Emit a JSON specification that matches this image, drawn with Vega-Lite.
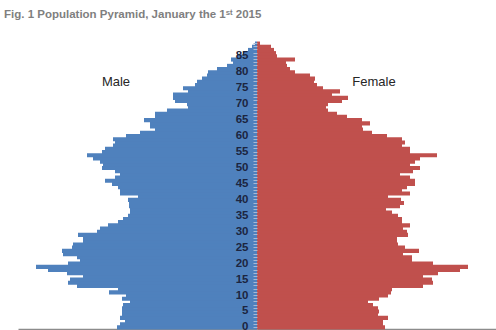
{
  "$schema": "https://vega.github.io/schema/vega-lite/v6.json",
  "width": 478,
  "height": 287,
  "autosize": "none",
  "padding": {"left": 18, "top": 42, "right": 0, "bottom": 1},
  "background": "white",
  "config": {"view": {"stroke": null}},
  "title": {
    "text": "Fig. 1 Population Pyramid, January the 1ˢᵗ 2015",
    "anchor": "start",
    "frame": "group",
    "font": "Liberation Sans, Arial, sans-serif",
    "fontSize": 11.5,
    "fontWeight": "bold",
    "color": "#7f7f7f",
    "baseline": "alphabetic",
    "offset": 29,
    "dx": -14,
    "dy": 21
  },
  "data": {
    "values": [
      {"age": 0, "male": 140, "female": 128},
      {"age": 1, "male": 137, "female": 126},
      {"age": 2, "male": 132, "female": 126},
      {"age": 3, "male": 137, "female": 131},
      {"age": 4, "male": 135, "female": 121},
      {"age": 5, "male": 135, "female": 122},
      {"age": 6, "male": 135, "female": 121},
      {"age": 7, "male": 134, "female": 116},
      {"age": 8, "male": 127, "female": 111},
      {"age": 9, "male": 135, "female": 122},
      {"age": 10, "male": 131, "female": 131},
      {"age": 11, "male": 148, "female": 134},
      {"age": 12, "male": 139, "female": 135},
      {"age": 13, "male": 180, "female": 166},
      {"age": 14, "male": 189, "female": 176},
      {"age": 15, "male": 187, "female": 175},
      {"age": 16, "male": 174, "female": 166},
      {"age": 17, "male": 190, "female": 181},
      {"age": 18, "male": 209, "female": 203},
      {"age": 19, "male": 221, "female": 211},
      {"age": 20, "male": 189, "female": 176},
      {"age": 21, "male": 177, "female": 155},
      {"age": 22, "male": 180, "female": 155},
      {"age": 23, "male": 194, "female": 146},
      {"age": 24, "male": 195, "female": 162},
      {"age": 25, "male": 185, "female": 148},
      {"age": 26, "male": 184, "female": 141},
      {"age": 27, "male": 174, "female": 140},
      {"age": 28, "male": 174, "female": 140},
      {"age": 29, "male": 179, "female": 151},
      {"age": 30, "male": 160, "female": 150},
      {"age": 31, "male": 157, "female": 146},
      {"age": 32, "male": 149, "female": 153},
      {"age": 33, "male": 139, "female": 145},
      {"age": 34, "male": 134, "female": 145},
      {"age": 35, "male": 129, "female": 141},
      {"age": 36, "male": 127, "female": 135},
      {"age": 37, "male": 127, "female": 129},
      {"age": 38, "male": 128, "female": 143},
      {"age": 39, "male": 128, "female": 147},
      {"age": 40, "male": 129, "female": 144},
      {"age": 41, "male": 119, "female": 131},
      {"age": 42, "male": 137, "female": 153},
      {"age": 43, "male": 137, "female": 145},
      {"age": 44, "male": 139, "female": 150},
      {"age": 45, "male": 145, "female": 158},
      {"age": 46, "male": 152, "female": 158},
      {"age": 47, "male": 142, "female": 153},
      {"age": 48, "male": 137, "female": 143},
      {"age": 49, "male": 142, "female": 156},
      {"age": 50, "male": 155, "female": 163},
      {"age": 51, "male": 154, "female": 153},
      {"age": 52, "male": 157, "female": 158},
      {"age": 53, "male": 164, "female": 163},
      {"age": 54, "male": 170, "female": 180},
      {"age": 55, "male": 155, "female": 153},
      {"age": 56, "male": 152, "female": 153},
      {"age": 57, "male": 144, "female": 145},
      {"age": 58, "male": 142, "female": 148},
      {"age": 59, "male": 144, "female": 145},
      {"age": 60, "male": 131, "female": 130},
      {"age": 61, "male": 117, "female": 115},
      {"age": 62, "male": 102, "female": 106},
      {"age": 63, "male": 107, "female": 105},
      {"age": 64, "male": 107, "female": 113},
      {"age": 65, "male": 113, "female": 105},
      {"age": 66, "male": 102, "female": 90},
      {"age": 67, "male": 102, "female": 80},
      {"age": 68, "male": 90, "female": 71},
      {"age": 69, "male": 69, "female": 69},
      {"age": 70, "male": 70, "female": 71},
      {"age": 71, "male": 82, "female": 85},
      {"age": 72, "male": 84, "female": 91},
      {"age": 73, "male": 84, "female": 75},
      {"age": 74, "male": 69, "female": 83},
      {"age": 75, "male": 74, "female": 66},
      {"age": 76, "male": 62, "female": 60},
      {"age": 77, "male": 60, "female": 57},
      {"age": 78, "male": 55, "female": 58},
      {"age": 79, "male": 50, "female": 53},
      {"age": 80, "male": 49, "female": 38},
      {"age": 81, "male": 40, "female": 33},
      {"age": 82, "male": 30, "female": 30},
      {"age": 83, "male": 24, "female": 29},
      {"age": 84, "male": 26, "female": 38},
      {"age": 85, "male": 20, "female": 20},
      {"age": 86, "male": 14, "female": 19},
      {"age": 87, "male": 9, "female": 17},
      {"age": 88, "male": 5, "female": 14},
      {"age": 89, "male": 2, "female": 3}
    ]
  },
  "layer": [
    {
      "layer": [
        {
          "mark": {"type": "bar", "color": "#4f81bd", "height": {"band": 1.3}},
          "encoding": {
            "y": {
              "field": "age",
              "type": "ordinal",
              "scale": {
                "domain": [89,88,87,86,85,84,83,82,81,80,79,78,77,76,75,74,73,72,71,70,69,68,67,66,65,64,63,62,61,60,59,58,57,56,55,54,53,52,51,50,49,48,47,46,45,44,43,42,41,40,39,38,37,36,35,34,33,32,31,30,29,28,27,26,25,24,23,22,21,20,19,18,17,16,15,14,13,12,11,10,9,8,7,6,5,4,3,2,1,0],
                "paddingInner": 0,
                "paddingOuter": 0
              },
              "axis": {
                "orient": "left",
                "offset": -239,
                "zindex": 2,
                "title": null,
                "domain": false,
                "ticks": true,
                "tickSize": 4,
                "tickColor": "#a9b9d4",
                "tickWidth": 1,
                "labelExpr": "datum.value % 5 == 0 ? datum.label : ''",
                "labelFont": "Liberation Sans, Arial, sans-serif",
                "labelFontSize": 11.5,
                "labelFontWeight": "bold",
                "labelColor": "#1c2540",
                "labelPadding": 5,
                "labelOverlap": false,
                "grid": false
              }
            },
            "x": {
              "field": "male",
              "type": "quantitative",
              "scale": {"domain": [0, 239], "range": [239, 0], "zero": true, "nice": false},
              "axis": {"orient": "bottom", "title": null, "labels": false, "ticks": false, "grid": false, "domain": true, "domainColor": "#8c8c8c", "domainWidth": 1.5}
            }
          }
        },
        {
          "data": {"values": [{"label": "Male"}]},
          "mark": {"type": "text", "font": "Liberation Sans, Arial, sans-serif", "fontSize": 13, "color": "#262626", "align": "center", "baseline": "middle"},
          "encoding": {
            "text": {"field": "label"},
            "x": {"datum": 141, "type": "quantitative"},
            "y": {"datum": 77, "type": "ordinal"}
          }
        }
      ]
    },
    {
      "layer": [
        {
          "mark": {"type": "bar", "color": "#c0504d", "height": {"band": 1.3}},
          "encoding": {
            "y": {"field": "age", "type": "ordinal"},
            "x": {
              "field": "female",
              "type": "quantitative",
              "scale": {"domain": [0, 239], "range": [239, 478], "zero": true, "nice": false},
              "axis": {"orient": "bottom", "title": null, "labels": false, "ticks": false, "grid": false, "domain": true, "domainColor": "#8c8c8c", "domainWidth": 1.5}
            }
          }
        },
        {
          "data": {"values": [{"label": "Female"}]},
          "mark": {"type": "text", "font": "Liberation Sans, Arial, sans-serif", "fontSize": 13, "color": "#262626", "align": "center", "baseline": "middle"},
          "encoding": {
            "text": {"field": "label"},
            "x": {"datum": 117, "type": "quantitative"},
            "y": {"datum": 77, "type": "ordinal"}
          }
        }
      ]
    }
  ],
  "resolve": {"scale": {"x": "independent"}}
}
